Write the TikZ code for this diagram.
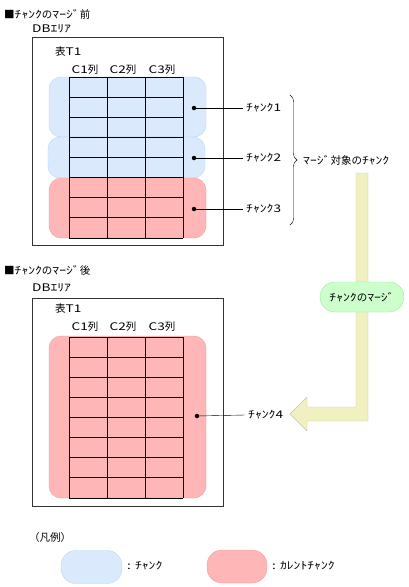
\documentclass[tikz,border=0pt]{standalone}
\usepackage{fontspec}
\setmainfont{Noto Sans CJK JP}
\newfontfamily\hwfont[FakeStretch=1.3]{Noto Sans CJK JP}
\newcommand\hw[1]{{\hwfont #1}}
\usetikzlibrary{decorations.pathreplacing}

\definecolor{chunkfill}{HTML}{DAEAFC}
\definecolor{chunkline}{HTML}{B5D5F5}
\definecolor{curfill}{HTML}{FFB6B6}
\definecolor{curline}{HTML}{F79C9C}
\definecolor{mergefill}{HTML}{CCFFCC}
\definecolor{mergeline}{HTML}{9EE69E}
\definecolor{arrowfill}{HTML}{F0F0C0}
\definecolor{arrowline}{HTML}{C4C4B4}

\begin{document}
\begin{tikzpicture}[x=1pt, y=-1pt,
    every node/.style={font=\fontsize{10.5}{12}\selectfont, inner sep=0pt},
    dbarea/.style={draw=black!80, fill=white, line width=0.8pt},
    chunkbox/.style={draw=chunkline, fill=chunkfill, rounded corners=12pt},
    currentbox/.style={draw=curline, fill=curfill, rounded corners=12pt},
    cell/.style={draw=black, line width=0.8pt},
    pt/.style={circle, fill=black, minimum size=4.5pt},
    lbl/.style={anchor=west, inner xsep=3pt}]

    % Bounding box
    \useasboundingbox (0,0) rectangle (408,587);

    % Before the merge
    \node[anchor=west] (title1) at (4,14) {■\hw{ﾁｬﾝｸ}の\hw{ﾏｰｼﾞ}前};
    \node[anchor=west] (db1) at (32,29) {\hw{DBｴﾘｱ}};
    \draw[dbarea] (32,37) rectangle (223,245);
    \node[anchor=west] (tbl1) at (55,52) {表\hw{T1}};
    \node (c1a) at (85,70) {\hw{C1}列};
    \node (c2a) at (123,70) {\hw{C2}列};
    \node (c3a) at (162,70) {\hw{C3}列};

    % Chunks 1-3
    \draw[chunkbox] (49,77) rectangle (206,137);
    \draw[chunkbox] (48,137) rectangle (205,178);
    \draw[currentbox] (49,178) rectangle (206,238);

    % Table rows and columns
    \foreach \r in {0,...,8}
        \draw[cell] (69,{77+20.125*\r}) -- (183,{77+20.125*\r});
    \foreach \c in {69,107,145,183}
        \draw[cell] (\c,77) -- (\c,238);

    % Chunk labels
    \node[pt] (d1) at (194,108) {};
    \node[pt] (d2) at (194,158) {};
    \node[pt] (d3) at (194,209) {};
    \node[lbl] (k1) at (243,108) {\hw{ﾁｬﾝｸ1}};
    \node[lbl] (k2) at (243,158) {\hw{ﾁｬﾝｸ2}};
    \node[lbl] (k3) at (243,209) {\hw{ﾁｬﾝｸ3}};
    \draw (d1.center) -- (k1.west);
    \draw (d2.center) -- (k2.west);
    \draw (d3.center) -- (k3.west);

    % Brace over the chunks to merge
    \coordinate (btop) at (290,95);
    \coordinate (bbot) at (290,225);
    \draw[decorate, decoration={brace, amplitude=7pt}] (btop) -- (bbot);
    \node[anchor=west] (target) at (303,160) {\hw{ﾏｰｼﾞ}対象の\hw{ﾁｬﾝｸ}};

    % Merge arrow
    \filldraw[fill=arrowfill, draw=arrowline] (356,173) -- (368,173) -- (368,421)
        -- (307,421) -- (307,431) -- (290,414) -- (307,397) -- (307,407)
        -- (356,407) -- cycle;
    \node[draw=mergeline, fill=mergefill, rounded corners=15pt,
        minimum width=84pt, minimum height=30pt] (merge) at (362,297)
        {\hw{ﾁｬﾝｸ}の\hw{ﾏｰｼﾞ}};

    % After the merge
    \node[anchor=west] (title2) at (4,270) {■\hw{ﾁｬﾝｸ}の\hw{ﾏｰｼﾞ}後};
    \node[anchor=west] (db2) at (32,288) {\hw{DBｴﾘｱ}};
    \draw[dbarea] (32,298) rectangle (223,506);
    \node[anchor=west] (tbl2) at (55,309) {表\hw{T1}};
    \node (c1b) at (85,327) {\hw{C1}列};
    \node (c2b) at (123,327) {\hw{C2}列};
    \node (c3b) at (162,327) {\hw{C3}列};

    % Chunk 4
    \draw[currentbox] (49,336) rectangle (206,498);
    \foreach \r in {0,...,8}
        \draw[cell] (69,{337+20.125*\r}) -- (183,{337+20.125*\r});
    \foreach \c in {69,107,145,183}
        \draw[cell] (\c,337) -- (\c,498);
    \node[pt] (d4) at (197,416) {};
    \node[lbl] (k4) at (245,415) {\hw{ﾁｬﾝｸ4}};
    \draw (d4.center) -- (k4.west);

    % Legend
    \node[anchor=west] (legend) at (29,538) {（凡例）};
    \node[chunkbox, rounded corners=15pt, minimum width=61pt, minimum height=33pt]
        (legchunk) at (91.5,567) {};
    \node[anchor=west] (legchunktxt) at (127,566) {\hw{: ﾁｬﾝｸ}};
    \node[currentbox, rounded corners=15pt, minimum width=60pt, minimum height=33pt]
        (legcur) at (237,566.5) {};
    \node[anchor=west] (legcurtxt) at (272,566) {\hw{: ｶﾚﾝﾄﾁｬﾝｸ}};

\end{tikzpicture}
\end{document}
